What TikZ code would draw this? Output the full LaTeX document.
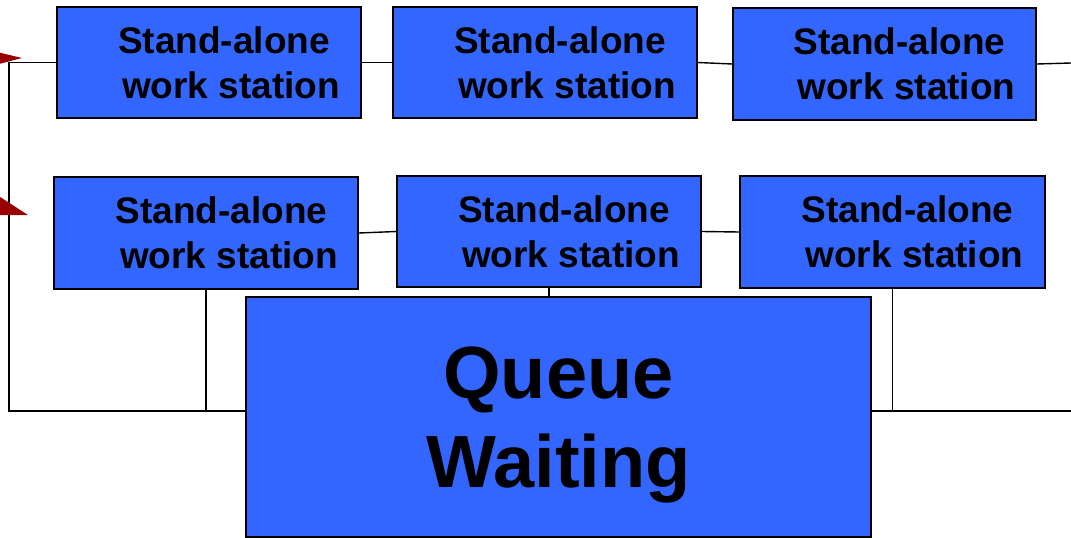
\documentclass[tikz,border=0pt]{standalone}
\usepackage{fontspec}
\setmainfont{Liberation Sans}
\usetikzlibrary{backgrounds}
\definecolor{boxblue}{RGB}{51,102,255}
\definecolor{arrowred}{RGB}{153,0,0}
\begin{document}
\begin{tikzpicture}[x=1pt,y=-1pt,
  station/.style={draw=black, line width=1.6pt, fill=boxblue, minimum width=304pt,
    minimum height=111pt, inner sep=0pt, align=center,
    font=\bfseries\fontsize{37}{45}\selectfont},
  queuebox/.style={draw=black, line width=1.6pt, fill=boxblue, minimum width=625pt,
    minimum height=240pt, inner sep=0pt, align=center, text depth=0pt,
    font=\bfseries\fontsize{74}{89}\selectfont},
  wire/.style={line width=1.4pt, draw=black},
  redtip/.style={fill=arrowred, draw=none}]
\useasboundingbox (0,0) rectangle (1071,538);
% top row
\node[station] (T1) at (209,62.5) {\hspace*{30pt}Stand-alone\\\hspace*{44pt}work station};
\node[station] (T2) at (545,62.5) {\hspace*{30pt}Stand-alone\\\hspace*{44pt}work station};
\node[station, minimum width=303pt, minimum height=112pt] (T3) at (884.5,64) {\hspace*{30pt}Stand-alone\\\hspace*{44pt}work station};
% bottom row
\node[station, minimum height=112pt] (B1) at (206,233) {\hspace*{31pt}Stand-alone\\\hspace*{46pt}work station};
\node[station] (B2) at (549,231.5) {\hspace*{30pt}Stand-alone\\\hspace*{44pt}work station};
\node[station, minimum width=305pt, minimum height=112pt] (B3) at (892.5,232) {\hspace*{30pt}Stand-alone\\\hspace*{44pt}work station};
% queue
\node[queuebox] (Q) at (558.5,417) {Queue\\Waiting};
% free ends
\coordinate (LT) at (9,62.5);
\coordinate (LB) at (9,411);
\coordinate (RB) at (1071,411);
\coordinate (RT) at (1071,63);
\begin{scope}[on background layer]
  \draw[wire] (T1.west) -- (LT) -- (LB) -- (RB);
  \draw[wire] (T1.east) -- (T2.west);
  \draw[wire] (T2.east) -- (T3.west);
  \draw[wire] (T3.east) -- (RT);
  \draw[wire] (B1.east) -- (B2.west);
  \draw[wire] (B2.east) -- (B3.west);
  \draw[wire] (B1.south) -- (B1.south |- LB);
  \draw[wire] (B2.south) -- (B2.south |- Q.north);
  \draw[wire] (B3.south) -- (B3.south |- RB);
\end{scope}
% red arrow tips entering from the left edge
\fill[redtip] (-3,52) -- (22,58) -- (-3,64.5) -- cycle;
\fill[redtip] (-3,195) -- (28,215) -- (-3,215) -- cycle;
\end{tikzpicture}
\end{document}
